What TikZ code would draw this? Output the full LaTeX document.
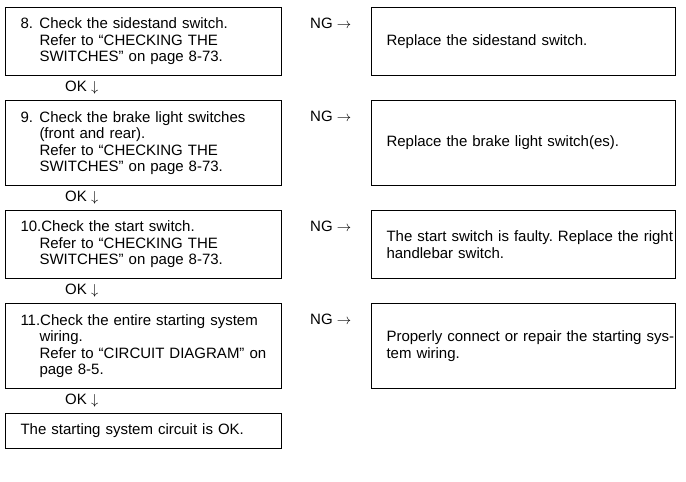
\documentclass[tikz,border=0pt]{standalone}
\usepackage{fontspec}
\setmainfont{Liberation Sans}
\usetikzlibrary{positioning}
\frenchspacing
\hfuzz=40pt
\begin{document}
\begin{tikzpicture}[x=1pt, y=-1pt,
  every node/.style = {font=\fontsize{15pt}{16.5pt}\selectfont},
  checkbox/.style = {draw, line width=1pt, text width=246pt,
    inner xsep=15pt, inner ysep=0pt, minimum height=68pt, align=left},
  fixbox/.style = {checkbox, text width=274pt},
  tall/.style = {minimum height=85pt},
  short/.style = {minimum height=35pt},
  verdict/.style = {anchor=west, inner sep=0pt}]
\useasboundingbox (0,0) rectangle (686,482);
% left column: checks
\node[checkbox, anchor=north west] (chk8) at (5,7)
 {\makebox[19pt][l]{8.}Check the sidestand switch.\\
  \hspace*{19pt}Refer to “CHECKING THE\\
  \hspace*{19pt}SWITCHES” on page 8-73.};
\node[checkbox, tall, below=24pt of chk8] (chk9)
 {\makebox[19pt][l]{9.}Check the brake light switches\\
  \hspace*{19pt}(front and rear).\\
  \hspace*{19pt}Refer to “CHECKING THE\\
  \hspace*{19pt}SWITCHES” on page 8-73.};
\node[checkbox, below=24pt of chk9] (chk10)
 {10.Check the start switch.\\
  \hspace*{19pt}Refer to “CHECKING THE\\
  \hspace*{19pt}SWITCHES” on page 8-73.};
\node[checkbox, tall, below=24pt of chk10] (chk11)
 {11.Check the entire starting system\\
  \hspace*{19pt}wiring.\\
  \hspace*{19pt}Refer to “CIRCUIT DIAGRAM” on\\
  \hspace*{19pt}page 8-5.};
\node[checkbox, short, below=24pt of chk11] (done)
 {The starting system circuit is OK.};
% right column: fixes
\node[fixbox, right=89pt of chk8] (fix8) {Replace the sidestand switch.};
\node[fixbox, tall, right=89pt of chk9] (fix9) {Replace the brake light switch(es).};
\node[fixbox, right=89pt of chk10] (fix10)
 {\mbox{The start switch is faulty. Replace the right}\\ handlebar switch.};
\node[fixbox, tall, right=89pt of chk11] (fix11)
 {\mbox{Properly connect or repair the starting sys-}\\tem wiring.};
% NG / OK marks
\node[verdict] (ng8) at ([xshift=28pt, yshift=-16pt]chk8.north east) {NG $\rightarrow$};
\node[verdict] (ng9) at ([xshift=28pt, yshift=-16pt]chk9.north east) {NG $\rightarrow$};
\node[verdict] (ng10) at ([xshift=28pt, yshift=-16pt]chk10.north east) {NG $\rightarrow$};
\node[verdict] (ng11) at ([xshift=28pt, yshift=-16pt]chk11.north east) {NG $\rightarrow$};
\node[verdict] (ok8) at ([xshift=60pt, yshift=-12pt]chk8.south west) {OK $\downarrow$};
\node[verdict] (ok9) at ([xshift=60pt, yshift=-12pt]chk9.south west) {OK $\downarrow$};
\node[verdict] (ok10) at ([xshift=60pt, yshift=-12pt]chk10.south west) {OK $\downarrow$};
\node[verdict] (ok11) at ([xshift=60pt, yshift=-12pt]chk11.south west) {OK $\downarrow$};
\end{tikzpicture}
\end{document}
